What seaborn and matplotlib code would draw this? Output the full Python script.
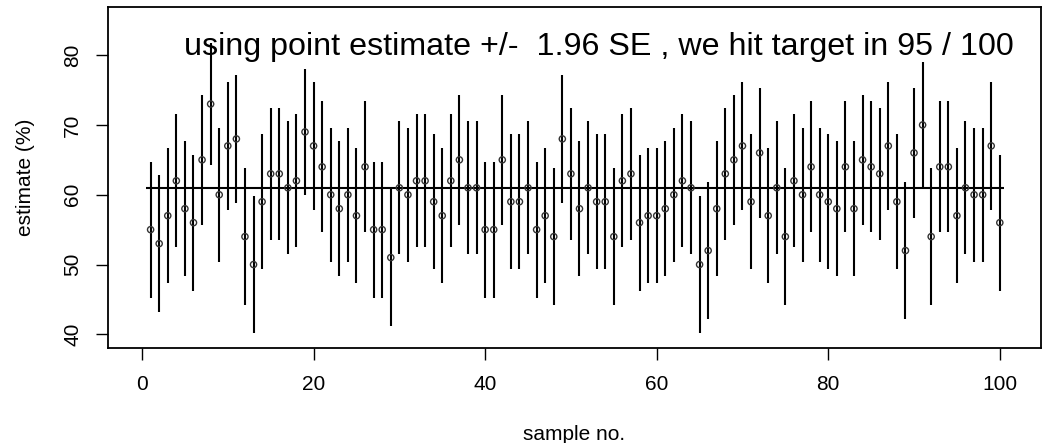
import numpy as np
import pandas as pd
import matplotlib
matplotlib.use("Agg")
import matplotlib.pyplot as plt
import seaborn as sns

# ---- data ----
sample_no = list(range(1, 101))
estimate = [55, 53, 57, 62, 58, 56, 65, 73, 60, 67,
            68, 54, 50, 59, 63, 63, 61, 62, 69, 67,
            64, 60, 58, 60, 57, 64, 55, 55, 51, 61,
            60, 62, 62, 59, 57, 62, 65, 61, 61, 55,
            55, 65, 59, 59, 61, 55, 57, 54, 68, 63,
            58, 61, 59, 59, 54, 62, 63, 56, 57, 57,
            58, 60, 62, 61, 50, 52, 58, 63, 65, 67,
            59, 66, 57, 61, 54, 62, 60, 64, 60, 59,
            58, 64, 58, 65, 64, 63, 67, 59, 52, 66,
            70, 54, 64, 64, 57, 61, 60, 60, 67, 56]
target = 61
n_per_sample = 100
z = 1.96
title_text = "using point estimate +/-  1.96 SE , we hit target in 95 / 100"
xticks = [0, 20, 40, 60, 80, 100]
yticks = [40, 50, 60, 70, 80]

df = pd.DataFrame({"sample": sample_no, "est": estimate})
p = df["est"] / 100.0
se = np.sqrt(p * (1 - p) / n_per_sample) * 100
df["lo"] = df["est"] - z * se
df["hi"] = df["est"] + z * se

sns.set_style("white")
plt.rcParams["font.family"] = ["Liberation Sans", "DejaVu Sans"]
plt.rcParams.update({"text.color": "black", "axes.labelcolor": "black",
                     "xtick.color": "black", "ytick.color": "black"})

fig = plt.figure(figsize=(10.46, 4.43), dpi=100)
ax = fig.add_axes([0.1033, 0.2144, 0.8919, 0.7698])

ax.vlines(df["sample"], df["lo"], df["hi"], color="black", linewidth=1.5, zorder=2)
ax.hlines(target, 0.5, 100.5, color="black", linewidth=1.5, zorder=2)
sns.scatterplot(data=df, x="sample", y="est", ax=ax, marker="o", s=20,
                facecolors="none", edgecolor="#333333", linewidth=1.0, zorder=3)

ax.set_xlim(-3.96, 104.8)
ax.set_ylim(38.04, 86.9)
ax.set_xticks(xticks)
ax.set_yticks(yticks)
ax.set_xticklabels([str(t) for t in xticks], fontsize=15)
ax.set_yticklabels([str(t) for t in yticks], fontsize=15, rotation=90, va="center")
ax.tick_params(axis="both", direction="out", length=8.6, width=1.0, color="black",
               labelcolor="black", bottom=True, left=True)
ax.tick_params(axis="x", pad=11)
ax.tick_params(axis="y", pad=10)
for s in ax.spines.values():
    s.set_visible(True)
    s.set_color("black")
    s.set_linewidth(1.3)

ax.set_xlabel("sample no.", fontsize=15, labelpad=22)
ax.set_ylabel("estimate (%)", fontsize=15, labelpad=20)

ax.text(53.3, 81.2, title_text, ha="center", va="center", fontsize=23.2, color="black")

fig.savefig("out.png", dpi=100)
